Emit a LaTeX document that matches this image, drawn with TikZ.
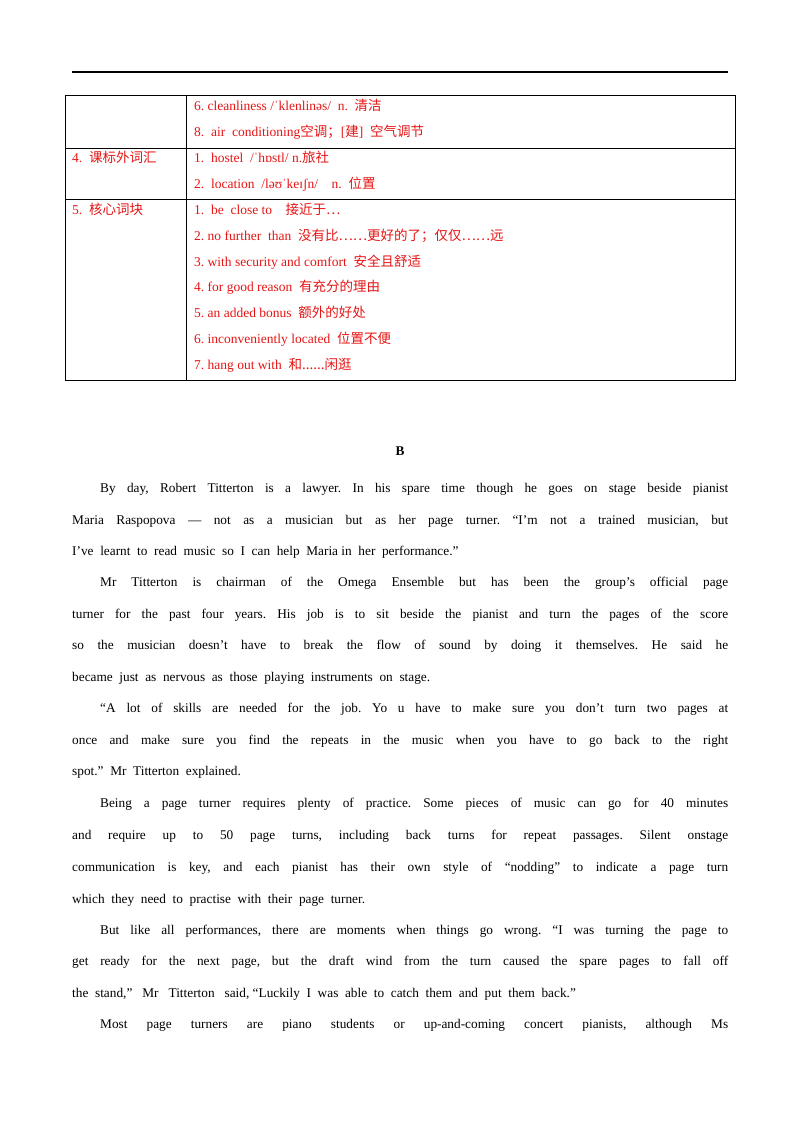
\documentclass[tikz,border=0pt]{standalone}
\usepackage{fontspec}
\setmainfont{Liberation Serif}
\newfontfamily\cjk{Noto Sans CJK SC}
\definecolor{tred}{RGB}{230,20,20}
\frenchspacing
\begin{document}
\begin{tikzpicture}[x=1pt,y=-1pt,
  tl/.style={anchor=base west,text=tred,inner sep=0,font=\fontsize{13.5}{15}\selectfont},
  bl/.style={anchor=base west,inner sep=0,font=\fontsize{13.3}{15}\selectfont}]
\useasboundingbox (0,0) rectangle (800,1132);
\draw[line width=2] (72,72) -- (728,72);
\draw[line width=0.7] (65,95) rectangle (735,380);
\draw[line width=0.7] (186,95) -- (186,380) (65,148) -- (735,148) (65,199) -- (735,199);
\node[tl] (a1) at (194,110) {6. cleanliness /ˈklenlinəs/\ \ n.\ \ {\cjk 清洁}};
\node[tl] (a2) at (194,136) {8.\ \ air\ \ conditioning{\cjk 空调；}[{\cjk 建}]\ \ {\cjk 空气调节}};
\node[tl] (b0) at (72,162) {4.\ \ {\cjk 课标外词汇}};
\node[tl] (b1) at (194,162) {1.\ \ hostel\ \ /ˈhɒstl/ n.{\cjk 旅社}};
\node[tl] (b2) at (194,188) {2.\ \ location\ \ /ləʊˈkeɪʃn/\ \ \ \ n.\ \ {\cjk 位置}};
\node[tl] (c0) at (72,214) {5.\ \ {\cjk 核心词块}};
\node[tl] (c1) at (194,214) {1.\ \ be\ \ close to\ \ \ \ {\cjk 接近于…}};
\node[tl] (c2) at (194,240) {2. no further\ \ than\ \ {\cjk 没有比……更好的了；仅仅……远}};
\node[tl] (c3) at (194,266) {3. with security and comfort\ \ {\cjk 安全且舒适}};
\node[tl] (c4) at (194,291) {4. for good reason\ \ {\cjk 有充分的理由}};
\node[tl] (c5) at (194,317) {5. an added bonus\ \ {\cjk 额外的好处}};
\node[tl] (c6) at (194,343) {6. inconveniently located\ \ {\cjk 位置不便}};
\node[tl] (c7) at (194,369) {7. hang out with\ \ {\cjk 和......闲逛}};
\node[inner sep=0,anchor=base,font=\fontsize{13.3}{15}\selectfont\bfseries] (B) at (400,455) {B};
\newcommand\justline[4]{\node[bl] (#1) at (#2,#3) {\makebox[\dimexpr728pt-#2pt\relax][s]{#4}};}
\newcommand\plainline[4]{\node[bl] (#1) at (#2,#3) {#4};}
\justline{p1}{100}{492}{By day, Robert Titterton is a lawyer. In his spare time though he goes on stage beside pianist}
\justline{p2}{72}{524}{Maria Raspopova — not as a musician but as her page turner. “I’m not a trained musician, but}
\plainline{p3}{72}{555}{I’ve\ \ learnt\ \ to\ \ read\ \ music\ \ so\ \ I\ \ can\ \ help\ \ Maria in\ \ her\ \ performance.”}
\justline{p4}{100}{586}{Mr Titterton is chairman of the Omega Ensemble but has been the group’s official page}
\justline{p5}{72}{618}{turner for the past four years. His job is to sit beside the pianist and turn the pages of the score}
\justline{p6}{72}{649}{so the musician doesn’t have to break the flow of sound by doing it themselves. He said he}
\plainline{p7}{72}{681}{became\ \ just\ \ as\ \ nervous\ \ as\ \ those\ \ playing\ \ instruments\ \ on\ \ stage.}
\justline{p8}{100}{712}{“A lot of skills are needed for the job. Yo u have to make sure you don’t turn two pages at}
\justline{p9}{72}{744}{once and make sure you find the repeats in the music when you have to go back to the right}
\plainline{p10}{72}{775}{spot.”\ \ Mr\ \ Titterton\ \ explained.}
\justline{p11}{100}{807}{Being a page turner requires plenty of practice. Some pieces of music can go for 40 minutes}
\justline{p12}{72}{839}{and require up to 50 page turns, including back turns for repeat passages. Silent onstage}
\justline{p13}{72}{871}{communication is key, and each pianist has their own style of “nodding” to indicate a page turn}
\plainline{p14}{72}{903}{which\ \ they\ \ need\ \ to\ \ practise\ \ with\ \ their\ \ page\ \ turner.}
\justline{p15}{100}{934}{But like all performances, there are moments when things go wrong. “I was turning the page to}
\justline{p16}{72}{965}{get ready for the next page, but the draft wind from the turn caused the spare pages to fall off}
\plainline{p17}{72}{997}{the\ \ stand,”\ \ \ Mr\ \ \ Titterton\ \ \ said,\ “Luckily\ \ I\ \ was\ \ able\ \ to\ \ catch\ \ them\ \ and\ \ put\ \ them\ \ back.”}
\justline{p18}{100}{1028}{Most page turners are piano students or up-and-coming concert pianists, although Ms}
\end{tikzpicture}
\end{document}
